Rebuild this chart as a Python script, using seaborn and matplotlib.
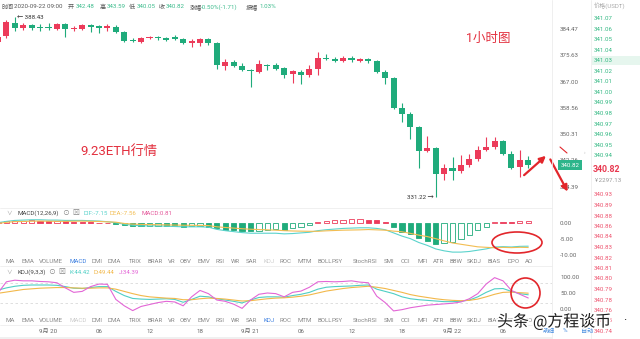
import numpy as np
import pandas as pd
import matplotlib
matplotlib.use("Agg")
import matplotlib.pyplot as plt
import seaborn as sns
from matplotlib.patches import Ellipse, FancyArrowPatch, Rectangle
from matplotlib import patheffects as pe
from matplotlib.ticker import FixedLocator, FixedFormatter, NullLocator, NullFormatter

# ---- ETH/USDT hourly candles, 2020-09-19 18:00 .. 2020-09-22 09:00 ----
opens = [380.05, 382.09, 386.6, 384.7, 385.8, 385.1, 384.9, 384.5, 386.1, 384.5,
         384.4, 385.8, 385.5, 384.9, 385.3, 383.6, 380.7, 380.0, 381.4, 381.5,
         381.3, 381.7, 381.0, 379.7, 379.7, 381.0, 379.6, 372.1, 373.4, 372.0,
         370.6, 370.1, 372.2, 372.4, 371.3, 369.4, 370.1, 369.1, 371.0, 374.6,
         374.3, 373.7, 374.8, 373.7, 374.3, 373.7, 370.1, 368.1, 358.6, 356.6,
         352.4, 345.1, 345.9, 338.0, 340.0, 338.9, 340.7, 342.5, 345.4, 346.2,
         348.2, 344.3, 340.1, 342.48]
highs = [382.4, 387.5, 388.43, 386.5, 386.3, 386.2, 386.5, 386.6, 386.5, 385.4,
         386.3, 386.2, 385.9, 386.2, 385.8, 383.9, 381.4, 381.9, 382.2, 382.0,
         381.8, 382.4, 381.4, 381.1, 381.5, 381.5, 380.0, 374.5, 374.0, 373.1,
         371.0, 373.9, 372.6, 373.1, 371.7, 370.8, 370.6, 372.4, 376.8, 376.2,
         375.1, 375.3, 375.3, 374.8, 374.7, 374.1, 370.8, 368.4, 360.1, 357.2,
         352.8, 349.7, 346.2, 341.2, 343.3, 343.8, 344.3, 346.6, 349.3, 349.3,
         348.6, 345.1, 345.4, 343.59]
lows = [379.4, 381.4, 383.8, 384.1, 384.3, 383.8, 384.3, 384.1, 381.9, 383.8,
        384.0, 383.5, 383.1, 383.8, 383.2, 380.2, 380.0, 379.6, 381.0, 380.8,
        380.3, 380.8, 379.5, 378.3, 378.7, 379.2, 371.1, 370.7, 371.6, 370.3,
        365.1, 369.7, 370.7, 370.8, 368.0, 366.6, 366.2, 368.6, 369.1, 373.9,
        373.3, 373.3, 373.5, 373.3, 373.2, 369.8, 366.3, 358.2, 354.2, 348.9,
        340.0, 344.8, 331.22, 336.4, 336.4, 338.4, 340.3, 342.1, 345.0, 345.8,
        344.0, 339.7, 337.2, 340.05]
closes = [381.75, 386.85, 384.7, 385.8, 384.9, 384.9, 384.8, 386.1, 384.4, 384.9,
          385.8, 385.3, 384.9, 385.5, 383.6, 380.5, 380.5, 381.5, 381.7, 381.3,
          380.7, 381.1, 379.8, 380.4, 381.1, 379.6, 372.4, 373.4, 372.1, 370.7,
          370.4, 372.9, 372.1, 371.1, 369.1, 370.3, 369.1, 371.1, 374.6, 374.3,
          373.7, 374.8, 373.9, 374.3, 373.7, 370.1, 368.1, 358.56, 356.6, 352.4,
          345.1, 345.9, 338.0, 340.0, 339.0, 340.7, 342.5, 345.4, 346.2, 348.2,
          344.3, 340.0, 342.48, 340.82]

price_ticks = [334.39, 342.26, 350.31, 358.56, 367.00, 375.63, 384.47]
time_ticks = [6, 12, 18, 24, 30, 36, 42, 48, 54, 60]
time_labels = ["9月 20", "06", "12", "18", "9月 21", "06", "12", "18", "9月 22", "06"]

# ---- MACD(12,26,9) ----
macd_hist = [0.5, 0.6, 0.75, 0.85, 0.9, 0.8, 0.7, 0.75, 0.6, 0.5, 0.45, 0.35, 0.25, 0.1,
             -0.3, -0.5, -0.7, -0.9, -0.8, -0.7, -0.8, -0.9, -1.0, -0.95, -0.9, -1.0,
             -1.6, -2.0, -2.2, -2.4, -2.5, -2.3, -2.1, -1.9, -2.0, -1.6, -1.1, -0.6,
             0.4, 0.7, 0.9, 1.1, 1.2, 1.3, 1.1, 0.9, 0.3,
             -1.1, -2.7, -3.3, -4.6, -5.5, -6.4, -6.2, -5.7, -4.9, -3.7, -2.1, -1.0,
             0.5, 0.45, 0.4, 0.6, 0.81]
dif = [0.2, 0.6, 0.9, 1.0, 1.1, 1.1, 1.0, 1.0, 0.9, 0.9, 0.9, 0.8, 0.7, 0.5,
       0.2, -0.3, -0.6, -0.8, -0.8, -0.8, -0.9, -1.0, -1.1, -1.1, -1.1, -1.2,
       -1.9, -2.3, -2.6, -2.9, -3.1, -3.1, -3.1, -3.1, -3.3, -3.2, -3.0, -2.8,
       -2.3, -2.0, -1.8, -1.6, -1.5, -1.4, -1.4, -1.6, -2.0,
       -3.0, -4.0, -4.8, -6.0, -6.9, -8.0, -8.6, -9.0, -9.0, -8.8, -8.4, -8.0,
       -7.4, -7.3, -7.4, -7.2, -7.15]
dea = [-0.05, 0.3, 0.52, 0.58, 0.65, 0.7, 0.65, 0.62, 0.6, 0.65, 0.68, 0.62, 0.58, 0.45,
       0.35, -0.05, -0.25, -0.35, -0.4, -0.45, -0.5, -0.55, -0.6, -0.62, -0.65, -0.7,
       -1.1, -1.3, -1.5, -1.7, -1.85, -1.95, -2.05, -2.15, -2.3, -2.4, -2.45, -2.5,
       -2.5, -2.35, -2.25, -2.15, -2.1, -2.05, -1.95, -2.05, -2.15,
       -2.45, -2.65, -3.15, -3.7, -4.15, -4.8, -5.5, -6.15, -6.55, -6.95, -7.35, -7.5,
       -7.65, -7.52, -7.6, -7.5, -7.56]
macd_ticks = [-10, -5, 0]

# ---- KDJ(9,3,3) ----
k_line = [59, 66, 71, 74, 75, 75, 75, 74, 70, 65, 64, 67, 70, 70,
          55, 42, 33, 31, 30, 31, 32, 30, 21, 30, 40, 38, 32, 28, 24, 19, 28, 36, 38, 38, 37, 42, 46, 52,
          62, 68, 70, 71, 72, 74, 75, 62, 55, 48, 38, 32, 29, 27, 25, 23, 23, 24, 28, 38, 52, 63, 64, 55, 48, 44.42]
d_line = [49, 53, 57, 61, 63, 65, 66, 67, 67, 66, 65, 65, 66, 66,
          62, 55, 48, 42, 38, 36, 34, 33, 29, 29, 32, 34, 33, 31, 28, 25, 26, 29, 32, 34, 35, 37, 40, 44,
          50, 56, 60, 64, 67, 69, 71, 68, 64, 58, 52, 45, 40, 36, 32, 29, 27, 26, 27, 31, 38, 46, 52, 53, 51, 49.44]
j_line = [50, 85, 90, 88, 88, 86, 85, 82, 66, 52, 55, 70, 78, 77,
          30, 10, -5, 8, 14, 20, 24, 22, 10, 38, 58, 48, 28, 24, 15, 2, 28, 46, 50, 48, 38, 52, 56, 68,
          85, 86, 85, 86, 88, 84, 82, 40, 20, -6, -2, 4, 8, 12, 14, 16, 18, 22, 32, 48, 78, 98, 88, 58, 46, 34.39]
kdj_ticks = [0, 50, 100]

# ---- quote panel ----
header_items = [("时间", "2020-09-22 09:00"), ("开", "342.48"), ("高", "343.59"),
                ("低", "340.05"), ("收", "340.82"), ("涨幅", "-0.50%(-1.71)"), ("振幅", "1.03%")]
ask_prices = ["341.07", "341.06", "341.05", "341.04", "341.03", "341.02", "341.01",
              "341.00", "340.99", "340.98", "340.97", "340.96", "340.95", "340.94"]
bid_prices = ["340.93", "340.89", "340.88", "340.86", "340.84", "340.83", "340.82",
              "340.81", "340.80", "340.79", "340.78", "340.76", "340.75", "340.74"]
last_price = 340.82
last_cny = "¥ 2297.13"
tabs = ["MA", "EMA", "VOLUME", "MACD", "DMI", "DMA", "TRIX", "BRAR", "VR", "OBV", "EMV",
        "RSI", "WR", "SAR", "KDJ", "ROC", "MTM", "BOLL", "PSY", "StochRSI", "SMI", "CCI",
        "MFI", "ATR", "BBW", "SKDJ", "BIAS", "DPO", "AO"]

# ---- styling ----
sns.set_theme(style="white")
plt.rcParams["font.family"] = ["Roboto", "Noto Sans CJK SC", "DejaVu Sans"]
plt.rcParams["axes.unicode_minus"] = False

RED = "#ec3b5a"
GREEN = "#1fab7b"
GREY = "#666666"
C_DIF, C_DEA, C_MACD = "#5bd3cc", "#f2bd52", "#e4579a"
C_K, C_D, C_J = "#4fcfc4", "#f2b84a", "#e366d6"
ANNOT = "#e2262b"
FS = 4.4

W, H = 640, 339
fig = plt.figure(figsize=(W / 100, H / 100), dpi=100)
fig.patch.set_facecolor("white")


def px_axes(l, t, r, b):
    return fig.add_axes([l / W, 1 - b / H, (r - l) / W, (b - t) / H])


idx = np.arange(len(opens))
XLIM = (0.2376, 65.82)

df = pd.DataFrame(dict(t=idx, open=opens, high=highs, low=lows, close=closes))
df["up"] = df.close >= df.open
df["color"] = np.where(df.up, RED, GREEN)
df["lo"] = np.minimum(df.open, df.close)
df["hi"] = np.maximum(df.open, df.close)
df["body"] = np.maximum(df.hi - df.lo, 0.3)

# ---- price pane ----
ax = px_axes(0, 12, 552, 206)
ax.set_yscale("log")
ax.set_xlim(*XLIM)
ax.set_ylim(328.67, 390.31)
ax.vlines(df.t, df.low, df.high, colors=df.color, lw=0.8, zorder=2)
ax.bar(df.t, df.body, bottom=df.lo, width=0.72, color=df.color, lw=0, zorder=3)
ax.yaxis.tick_right()
ax.yaxis.set_major_locator(FixedLocator(price_ticks))
ax.yaxis.set_major_formatter(FixedFormatter([f"{v:.2f}" for v in price_ticks]))
ax.yaxis.set_minor_locator(NullLocator())
ax.yaxis.set_minor_formatter(NullFormatter())
ax.tick_params(axis="y", length=0, pad=5.8, labelsize=FS, labelcolor=GREY)
ax.set_xticks([])
for s in ax.spines.values():
    s.set_visible(False)

hi_i = int(np.argmax(highs))
lo_i = int(np.argmin(lows))
ax.annotate(f"← {highs[hi_i]:.2f}", xy=(hi_i, highs[hi_i]), xytext=(1.5, 0),
            textcoords="offset points", ha="left", va="center", fontsize=FS, color="#333")
ax.annotate(f"{lows[lo_i]:.2f} →", xy=(lo_i, lows[lo_i]), xytext=(-1.5, 0),
            textcoords="offset points", ha="right", va="center", fontsize=FS, color="#333")
ax.annotate(f"{last_price:.2f}", xy=(1.0, last_price), xycoords=("axes fraction", "data"),
            xytext=(6.2, 0), textcoords="offset points", ha="left", va="center",
            fontsize=FS, color="white",
            bbox=dict(boxstyle="square,pad=0.35", fc="#2db58b", ec="none"), zorder=5)

# ---- MACD pane ----
axm = px_axes(0, 208, 552, 258)
axm.set_xlim(*XLIM)
axm.set_ylim(-10.84, 4.78)
prev = np.r_[-np.inf, macd_hist[:-1]]
hist = np.array(macd_hist)
col = np.where(hist >= 0, RED, GREEN)
rising = hist > prev
face = np.where(rising, "white", col)
axm.bar(idx, hist, width=0.62, color=face, edgecolor=col, linewidth=0.6, zorder=2)
sns.lineplot(x=idx, y=dif, ax=axm, color=C_DIF, lw=0.8, zorder=3)
sns.lineplot(x=idx, y=dea, ax=axm, color=C_DEA, lw=0.8, zorder=3)
axm.yaxis.tick_right()
axm.set_yticks(macd_ticks)
axm.set_yticklabels([f"{v:.2f}" for v in macd_ticks])
axm.tick_params(axis="y", length=0, pad=5.8, labelsize=FS, labelcolor=GREY)
axm.set_xticks([])
axm.set_xlabel("")
axm.set_ylabel("")
for s in axm.spines.values():
    s.set_visible(False)

# ---- KDJ pane ----
axk = px_axes(0, 268, 552, 314)
axk.set_xlim(*XLIM)
axk.set_ylim(-15.6, 128.1)
for lvl in (80, 20):
    axk.axhline(lvl, color="#d9d9d9", lw=0.6, ls=(0, (3, 3)), zorder=1)
sns.lineplot(x=idx, y=k_line, ax=axk, color=C_K, lw=0.8, zorder=3)
sns.lineplot(x=idx, y=d_line, ax=axk, color=C_D, lw=0.8, zorder=3)
sns.lineplot(x=idx, y=j_line, ax=axk, color=C_J, lw=0.8, zorder=3)
axk.yaxis.tick_right()
axk.set_yticks(kdj_ticks)
axk.set_yticklabels([f"{v:.2f}" for v in kdj_ticks])
axk.tick_params(axis="y", length=0, pad=5.8, labelsize=FS, labelcolor=GREY)
axk.set_xticks(time_ticks)
axk.set_xticklabels(time_labels)
axk.tick_params(axis="x", length=0, pad=10.5, labelsize=FS, labelcolor=GREY)
axk.set_xlabel("")
axk.set_ylabel("")
for s in axk.spines.values():
    s.set_visible(False)

# ---- overlay in pixel space: headers, tabs, order book, notes ----
ov = fig.add_axes([0, 0, 1, 1], zorder=10)
ov.set_xlim(0, W)
ov.set_ylim(H, 0)
ov.axis("off")
ov.patch.set_alpha(0)


def put(x, y, s, **kw):
    kw.setdefault("fontsize", FS)
    kw.setdefault("va", "center")
    kw.setdefault("ha", "left")
    return ov.text(x, y, s, **kw)


# separators
for yy in (208, 266, 325):
    ov.plot([0, 552], [yy, yy], color="#eeeeee", lw=0.6)
ov.plot([552, 552], [0, H], color="#ececec", lw=0.6)
ov.plot([591, 591], [0, H], color="#eeeeee", lw=0.6)
ov.add_patch(Rectangle((0, 336.5), 552, 2.5, color="#f0f0f0", lw=0))

# top quote line
lab_x = [2, 68, 100, 129, 159, 190, 246]
val_x = [14, 76, 107, 137, 166, 201, 259]
for (lab, val), lx, vx in zip(header_items, lab_x, val_x):
    put(lx, 7, lab, color="#555555")
    put(vx, 7, val, color="#555555" if lab == "时间" else "#3cbb8c")

# indicator headers
put(6, 213.5, "∨", color="#999999", fontsize=4)
put(17, 213.5, "MACD(12,26,9)", color="#444444")
put(62, 213.5, "⊙", color="#888888", fontsize=5)
put(72, 213.5, "⊠", color="#888888", fontsize=5)
put(83, 213.5, f"DIF:{dif[-1]:.2f}", color=C_DIF)
put(110, 213.5, f"DEA:{dea[-1]:.2f}", color=C_DEA)
put(141, 213.5, f"MACD:{macd_hist[-1]:.2f}", color=C_MACD)

put(6, 272, "∨", color="#999999", fontsize=4)
put(17, 272, "KDJ(9,3,3)", color="#444444")
put(48, 272, "⊙", color="#888888", fontsize=5)
put(58, 272, "⊠", color="#888888", fontsize=5)
put(69, 272, f"K:{k_line[-1]:.2f}", color=C_K)
put(94, 272, f"D:{d_line[-1]:.2f}", color=C_D)
put(119, 272, f"J:{j_line[-1]:.2f}", color=C_J)

# indicator tab rows
tab_x = [5, 21, 39, 69, 92, 108, 129, 147, 168, 180, 198, 216, 231, 246, 263, 279,
         297, 317, 331, 353, 384, 401, 417, 433, 449, 467, 488, 507, 525]
for name, tx in zip(tabs, tab_x):
    c1 = "#3c7fe0" if name == "MACD" else ("#cccccc" if name == "KDJ" else "#888888")
    c2 = "#3c7fe0" if name == "KDJ" else ("#cccccc" if name == "MACD" else "#888888")
    put(tx, 261.5, name, color=c1)
    put(tx, 320, name, color=c2)

# order book
put(594, 6, "价格(USDT)", color="#aaaaaa")
ov.add_patch(Rectangle((591.5, 56), 48.5, 8.5, color="#e6f6ee", lw=0))
for k, p in enumerate(ask_prices):
    put(594, 18.5 + 10.55 * k, p, color="#35b984")
put(593, 170, f"{last_price:.2f}", color="#e8384f", fontsize=6.3, fontweight="bold")
put(594, 181, last_cny, color="#999999")
for k, p in enumerate(bid_prices):
    put(594, 195 + 10.5 * k, p, color="#ee5670")
put(584, 152, "›", color="#bbbbbb", fontsize=4)

# bottom-right controls
put(543, 331, "明细", color="#4a8fe0")
put(563, 331, "%", color="#4a8fe0")
put(581, 331, "自动", color="#4a8fe0")

# notes
put(80, 151, "9.23ETH行情", color="#e3303f", fontsize=9.5)
put(466, 38, "1小时图", color="#e3303f", fontsize=9)

ov.add_patch(FancyArrowPatch((522, 177), (548, 154), arrowstyle="-|>",
                             mutation_scale=9, color=ANNOT, lw=1.6))
ov.add_patch(FancyArrowPatch((549, 157), (569, 194), arrowstyle="-|>",
                             mutation_scale=9, color=ANNOT, lw=1.6))
ov.plot([560, 567], [147, 153], color=ANNOT, lw=0.8)
ov.add_patch(Ellipse((517, 242.5), 50, 21, fill=False, ec=ANNOT, lw=1.2))
ov.add_patch(Ellipse((525.5, 293), 29, 30, fill=False, ec=ANNOT, lw=1.2))

wm = put(497, 321, "头条 @方程谈币", color="#1e1e1e", fontsize=11.5)
wm.set_path_effects([pe.withStroke(linewidth=2.2, foreground="white")])
put(623, 321, "·", color="#1e1e1e", fontsize=9)

fig.savefig("out.png", dpi=100, facecolor="white")
